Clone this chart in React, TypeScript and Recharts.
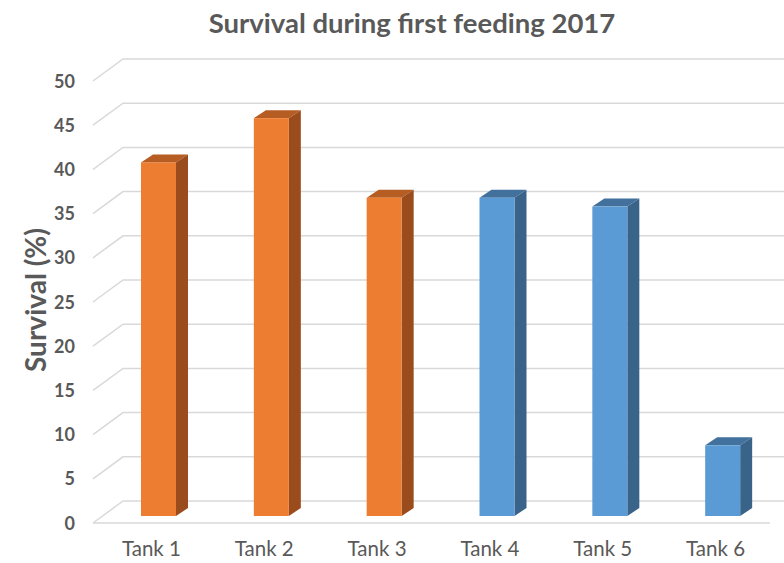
import { Bar, BarChart, CartesianGrid, Cell, XAxis, YAxis } from "recharts";

const tanks = ["Tank 1", "Tank 2", "Tank 3", "Tank 4", "Tank 5", "Tank 6"];
const survival = [40, 45, 36, 36, 35, 8];
const yTicks = [0, 5, 10, 15, 20, 25, 30, 35, 40, 45, 50];

const data = tanks.map((tank, i) => ({ tank, survival: survival[i] }));

// first three tanks orange, the rest blue
const faces = [
  { front: "#ED7D31", top: "#B55D22", side: "#9A4C1C" },
  { front: "#5B9BD5", top: "#41719C", side: "#3A6389" },
];

const TEXT = "#595959";
const GRID = "#D9D9D9";
const FONT = "Lato, 'Open Sans', sans-serif";

// 3D offsets
const DEPTH_X = 12;
const DEPTH_Y = -8;
const FRONT_Y = 7;
const BACK_Y = -15;
const WALL_LEFT = 93;
const WALL_BACK = 123;

function Column3D(props: any) {
  const { x, y, width, height, index } = props;
  const c = faces[index < 3 ? 0 : 1];
  const top = `M${x},${y} L${x + DEPTH_X},${y + DEPTH_Y} L${x + width + DEPTH_X},${y + DEPTH_Y} L${x + width},${y} Z`;
  const side = `M${x + width},${y} L${x + width + DEPTH_X},${y + DEPTH_Y} L${x + width + DEPTH_X},${y + height + DEPTH_Y} L${x + width},${y + height} Z`;
  return (
    <g>
      <path d={top} fill={c.top} />
      <path d={side} fill={c.side} />
      <rect x={x} y={y} width={width} height={height} fill={c.front} />
    </g>
  );
}

function GridLine(props: any) {
  const { y1, index } = props;
  return (
    <g key={`grid-${index}`}>
      <path
        d={`M${WALL_LEFT},${y1 + FRONT_Y} L${WALL_BACK},${y1 + BACK_Y} L784,${y1 + BACK_Y}`}
        fill="none"
        stroke={GRID}
        strokeWidth={1.5}
      />
      {index === 0 && (
        <line x1={WALL_LEFT} y1={y1 + FRONT_Y} x2={770} y2={y1 + FRONT_Y} stroke={GRID} strokeWidth={1.5} />
      )}
    </g>
  );
}

function YTick(props: any) {
  const { y, payload } = props;
  return (
    <text x={75} y={y + FRONT_Y} dy={6.5} textAnchor="end" fill={TEXT} fontSize={18} fontWeight={700} fontFamily={FONT}>
      {payload.value}
    </text>
  );
}

function XTick(props: any) {
  const { x, y, payload } = props;
  return (
    <text x={x - 7} y={y + 32} textAnchor="middle" fill={TEXT} fontSize={20.5} fontFamily={FONT}>
      {payload.value}
    </text>
  );
}

export default function App() {
  return (
    <div style={{ position: "absolute", left: 0, top: 0, width: 784, height: 563, background: "#fff" }}>
      <BarChart width={784} height={563} data={data} margin={{ top: 74, right: 5, bottom: 0, left: 0 }}>
        <text x={412} y={33} textAnchor="middle" fill={TEXT} fontSize={27.5} fontWeight={700} fontFamily={FONT}>
          Survival during first feeding 2017
        </text>
        <text
          x={0}
          y={0}
          transform="translate(46,300) rotate(-90)"
          textAnchor="middle"
          fill={TEXT}
          fontSize={28}
          fontWeight={700}
          fontFamily={FONT}
        >
          Survival (%)
        </text>
        <CartesianGrid vertical={false} horizontal={GridLine} />
        <XAxis dataKey="tank" axisLine={false} tickLine={false} tick={XTick} height={47} />
        <YAxis domain={[0, 50]} ticks={yTicks} axisLine={false} tickLine={false} tick={YTick} width={102} />
        <Bar dataKey="survival" barSize={35} shape={Column3D} isAnimationActive={false}>
          {data.map((d) => (
            <Cell key={d.tank} />
          ))}
        </Bar>
      </BarChart>
    </div>
  );
}
